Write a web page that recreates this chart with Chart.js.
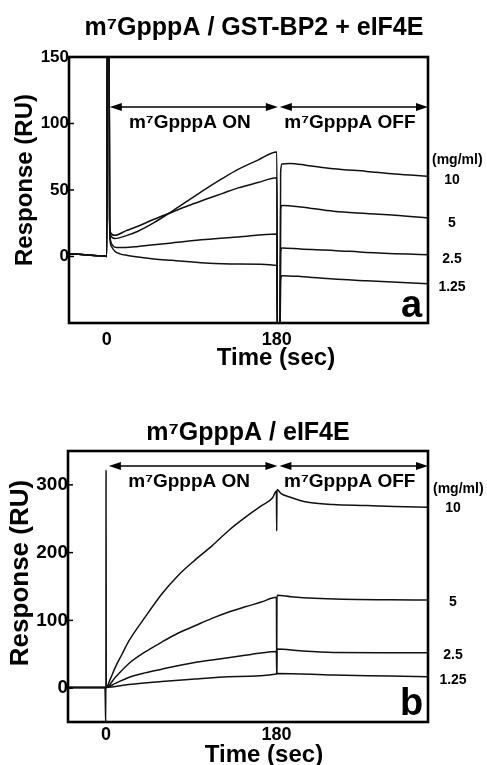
<!DOCTYPE html>
<html>
<head>
<meta charset="utf-8">
<title>m7GpppA binding sensorgrams</title>
<script src="https://cdn.jsdelivr.net/npm/chart.js@4.4.1/dist/chart.umd.min.js"></script>
<style>
    html, body { margin: 0; padding: 0; background: #fff; }
    body { width: 487px; height: 765px; position: relative; overflow: hidden; }
    canvas { position: absolute; left: 0; }
    #chartA { top: 0; }
    #chartB { top: 380px; }
</style>
</head>
<body>
<canvas id="chartA" width="487" height="380"></canvas>
<canvas id="chartB" width="487" height="385"></canvas>
<script>
const FONT = "'Liberation Sans', Arial, Helvetica, sans-serif";

// axis ticks and labels
const TIME_TICKS = [0, 180];
const RESPONSE_TICKS_A = [0, 50, 100, 150];
const RESPONSE_TICKS_B = [0, 100, 200, 300];
const CONCENTRATIONS = ['10', '5', '2.5', '1.25'];
const PHASE_LABELS = ['m\u2077GpppA ON', 'm\u2077GpppA OFF'];
const PHASE_BOUNDS = [0, 180, 340];

// panel a: m7GpppA / GST-BP2 + eIF4E   [time (s), response (RU)]
const A_INJECT = [[-40, 2.1], [-30, 1.6], [-20, 1.1], [-10, 0.6], [-1, 0.2], [0, 0], [0.4, 170], [2.4, 170], [3, 28]];
const A_10 = A_INJECT.concat([
    [4, 16], [8.5, 13.5], [20, 15.5], [33, 19], [50, 25.5], [69, 34], [86, 42], [104, 50.5],
    [122, 58.5], [139, 65.5], [160, 72.5], [180, 78.5], [180.6, -60], [183.4, -60], [184, 63],
    [185.5, 69.5], [194, 70], [212, 68.5], [240, 66], [275, 64], [305, 62], [340, 60.4]
]);
const A_5 = A_INJECT.concat([
    [4, 18], [8.5, 15.9], [20, 19.3], [33, 22.7], [50, 28], [69, 33.3], [86, 38.2], [104, 42.8],
    [122, 47.3], [139, 51.6], [160, 55.6], [180, 59.2], [180.6, -60], [183.4, -60], [184, 35],
    [185.5, 38.3], [205, 37.3], [240, 34], [275, 32.3], [305, 31], [340, 29]
]);
const A_2_5 = A_INJECT.concat([
    [4, 12], [6, 8.5], [10, 6.8], [20, 6.8], [33, 7.6], [50, 8.9], [69, 10.2], [104, 12.7],
    [139, 14.7], [180, 17], [180.6, -60], [183.4, -60], [184, 3], [185.5, 6.4], [205, 5.6],
    [240, 4.6], [275, 3.1], [340, 1.4]
]);
const A_1_25 = A_INJECT.concat([
    [3.5, 12], [5, 7.5], [8.5, 4], [14, 2], [22, 0.8], [33, -0.4], [50, -1.8], [69, -2.9],
    [104, -4.9], [139, -5.7], [180, -6.7], [180.6, -60], [183.4, -60], [184, -18], [185.5, -14.4],
    [205, -15], [240, -17], [275, -18.2], [340, -20.5]
]);

// panel b: m7GpppA / eIF4E
const B_BASE = [[-40, 1], [-20, 1], [-1, 1]];
const B_10 = B_BASE.concat([
    [0, -60], [0.2, 322], [0.4, 1], [4.5, 13], [10, 31], [17, 50], [24, 69], [41, 104], [59, 139],
    [76, 166], [94, 189], [112, 210], [129, 232], [147, 252], [164, 269], [176, 281], [180, 291],
    [180.3, 232], [180.6, 293], [185, 287], [194, 282], [205, 277], [215, 274], [240, 271],
    [275, 269.5], [305, 268], [340, 267]
]);
const B_5 = B_BASE.concat([
    [0, 1], [10, 16], [24, 36], [41, 53], [59, 68], [76, 81], [94, 92], [112, 103], [129, 112],
    [147, 120], [164, 127], [180, 134], [180.3, 21], [180.6, 137], [195, 135], [220, 132.5],
    [250, 131], [300, 130.3], [340, 130]
]);
const B_2_5 = B_BASE.concat([
    [0, 1], [10, 7], [24, 15.7], [41, 22.5], [59, 28], [76, 33], [94, 37.8], [112, 41.5], [129, 45],
    [147, 48.5], [164, 51.7], [180, 54], [180.3, 21], [180.6, 57.6], [205, 55], [240, 52.7],
    [300, 52.3], [340, 52.2]
]);
const B_1_25 = B_BASE.concat([
    [0, 1], [24, 5.4], [59, 9.8], [94, 13.3], [129, 16.7], [180, 20.7], [181, 21.7], [240, 19.2],
    [300, 17.8], [340, 16.7]
]);

function drawArrow(ctx, x1, x2, y) {
    const head = 12, half = 4;
    ctx.beginPath();
    ctx.moveTo(x1 + head - 1, y);
    ctx.lineTo(x2 - head + 1, y);
    ctx.stroke();
    ctx.beginPath();
    ctx.moveTo(x1, y);
    ctx.lineTo(x1 + head, y - half);
    ctx.lineTo(x1 + head, y + half);
    ctx.closePath();
    ctx.moveTo(x2, y);
    ctx.lineTo(x2 - head, y - half);
    ctx.lineTo(x2 - head, y + half);
    ctx.closePath();
    ctx.fill();
}

// frame, phase arrows and all the annotation text
const decorPlugin = {
    id: 'decor',
    afterDraw(chart, args, o) {
        const { ctx, chartArea: a } = chart;
        const xs = chart.scales.x;
        const ys = chart.scales.y;
        ctx.save();
        ctx.fillStyle = '#000';
        ctx.strokeStyle = '#000';

        ctx.lineWidth = 2.6;
        ctx.strokeRect(a.left, a.top, a.right - a.left, a.bottom - a.top);

        ctx.lineWidth = 1.5;
        o.yTicks.forEach(v => {
            const py = ys.getPixelForValue(v);
            ctx.beginPath();
            ctx.moveTo(a.left, py);
            ctx.lineTo(a.left + 5, py);
            ctx.stroke();
        });

        ctx.font = `bold 19px ${FONT}`;
        ctx.textAlign = 'center';
        ctx.textBaseline = 'alphabetic';
        for (let i = 0; i < PHASE_LABELS.length; i++) {
            const x1 = xs.getPixelForValue(PHASE_BOUNDS[i]) + 3;
            const x2 = Math.min(xs.getPixelForValue(PHASE_BOUNDS[i + 1]) + 1, a.right);
            drawArrow(ctx, x1, x2, o.arrowY);
            ctx.fillText(PHASE_LABELS[i], (x1 + x2) / 2 - 4, o.phaseY);
        }

        // title
        ctx.font = `bold 25px ${FONT}`;
        ctx.fillText(o.title, o.titleX, o.titleY);

        // axis titles
        ctx.font = `bold 24px ${FONT}`;
        ctx.fillText('Time (sec)', o.xTitleX, o.xTitleY);
        ctx.save();
        ctx.translate(o.yTitleX, o.yTitleY);
        ctx.rotate(-Math.PI / 2);
        ctx.font = `bold ${o.yTitleSize}px ${FONT}`;
        ctx.fillText('Response (RU)', 0, 0);
        ctx.restore();

        // concentration labels on the right
        ctx.font = `bold 14px ${FONT}`;
        ctx.textBaseline = 'middle';
        ctx.textAlign = 'left';
        ctx.fillText('(mg/ml)', o.unitX, o.unitY);
        ctx.textAlign = 'center';
        CONCENTRATIONS.forEach((c, i) => ctx.fillText(c, o.concX, o.concY[i]));

        // panel letter
        ctx.font = `bold 38px ${FONT}`;
        ctx.textAlign = 'left';
        ctx.textBaseline = 'alphabetic';
        ctx.fillText(o.letter, o.letterX, o.letterY);

        ctx.restore();
    }
};

function makeSeries(list) {
    return list.map((pts, i) => ({
        label: CONCENTRATIONS[i] + ' mg/ml',
        data: pts.map(p => ({ x: p[0], y: p[1] })),
        borderColor: '#111',
        borderWidth: 1.5,
        pointRadius: 0,
        cubicInterpolationMode: 'monotone',
        fill: false
    }));
}

function makeChart(id, cfg) {
    const tickFont = size => ({ family: FONT, size: size, weight: 'bold' });
    return new Chart(document.getElementById(id), {
        type: 'line',
        data: { datasets: makeSeries(cfg.series) },
        options: {
            responsive: false,
            animation: false,
            devicePixelRatio: 1,
            layout: { padding: { top: cfg.top, right: 59, bottom: 0, left: 0 } },
            plugins: {
                legend: { display: false },
                tooltip: { enabled: false },
                decor: cfg.decor
            },
            scales: {
                x: {
                    type: 'linear',
                    min: -40,
                    max: 340,
                    afterBuildTicks: s => { s.ticks = TIME_TICKS.map(v => ({ value: v })); },
                    afterFit: s => { s.height = cfg.xHeight; },
                    grid: { display: false, drawTicks: false },
                    border: { display: false },
                    ticks: { color: '#000', font: tickFont(18), padding: cfg.xPad, maxRotation: 0, autoSkip: false }
                },
                y: {
                    type: 'linear',
                    min: cfg.yMin,
                    max: cfg.yMax,
                    afterBuildTicks: s => { s.ticks = cfg.yTicks.map(v => ({ value: v })); },
                    afterFit: s => { s.width = cfg.yWidth; },
                    grid: { display: false, drawTicks: false },
                    border: { display: false },
                    ticks: { color: '#000', font: tickFont(cfg.yFont), padding: 0 }
                }
            }
        },
        plugins: [decorPlugin]
    });
}

makeChart('chartA', {
    series: [A_10, A_5, A_2_5, A_1_25],
    top: 57, xHeight: 57, yWidth: 69, xPad: 6, yFont: 17,
    yMin: -50, yMax: 150, yTicks: RESPONSE_TICKS_A,
    decor: {
        yTicks: RESPONSE_TICKS_A,
        arrowY: 107, phaseY: 127.5,
        title: 'm\u2077GpppA / GST-BP2 + eIF4E', titleX: 254, titleY: 35,
        xTitleX: 276, xTitleY: 365,
        yTitleX: 32, yTitleY: 180, yTitleSize: 24,
        unitX: 432, unitY: 160, concX: 452, concY: [180, 223, 259, 287],
        letter: 'a', letterX: 401, letterY: 317
    }
});

makeChart('chartB', {
    series: [B_10, B_5, B_2_5, B_1_25],
    top: 71, xHeight: 43, yWidth: 68, xPad: 2, yFont: 19,
    yMin: -50, yMax: 350, yTicks: RESPONSE_TICKS_B,
    decor: {
        yTicks: RESPONSE_TICKS_B,
        arrowY: 86, phaseY: 107,
        title: 'm\u2077GpppA / eIF4E', titleX: 248, titleY: 60,
        xTitleX: 264, xTitleY: 382,
        yTitleX: 28, yTitleY: 193, yTitleSize: 26,
        unitX: 433, unitY: 109, concX: 453, concY: [128, 222, 275, 300],
        letter: 'b', letterX: 400, letterY: 335
    }
});
</script>
</body>
</html>
